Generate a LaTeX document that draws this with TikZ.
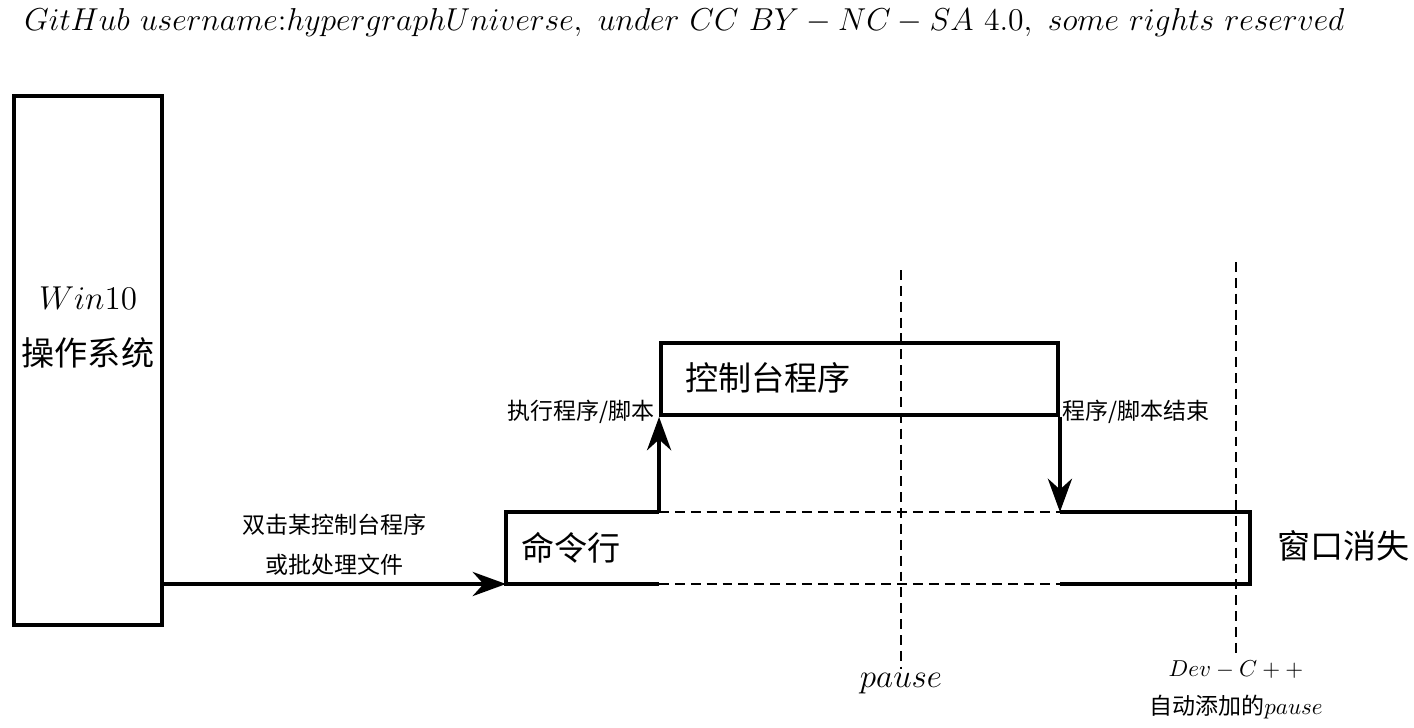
\documentclass[tikz,border=0pt]{standalone}
\usepackage{fontspec}
\newfontfamily\cjk{Noto Sans CJK SC}
\usetikzlibrary{arrows.meta,positioning}

\begin{document}
\begin{tikzpicture}[x=0.4348pt,y=-0.4348pt,
    thickline/.style={line width=1.7pt},
    thinline/.style={line width=0.85pt, dash pattern=on 4.3pt off 2.6pt},
    flow/.style={thickline, -{Stealth[length=14.5pt,width=10.5pt]}},
    bigtext/.style={font=\cjk\fontsize{14.4}{17}\selectfont, inner sep=0pt},
    smalltext/.style={font=\cjk\fontsize{10}{17.4}\selectfont, inner sep=0pt}]
  \useasboundingbox (0,0) rectangle (1414,727);

  % top line
  \node[anchor=base west, inner sep=0pt, font=\Large] (lic) at (24,30)
    {\scalebox{0.957}{$GitHub\ username{:}hypergraphUniverse,\ under\ CC\ BY-NC-SA\ 4.0,\ some\ rights\ reserved$}};

  % operating system
  \node[draw, thickline, minimum width=64.3pt, minimum height=230pt, inner sep=0pt] (os) at (88,360.5) {};
  \node[bigtext] (win) at (88,298) {$Win10$};
  \node[bigtext] (ossys) at (88,353) {操作系统};

  % console program
  \node[draw, thickline, minimum width=172.6pt, minimum height=31.3pt, inner sep=0pt] (con) at (859.5,379) {};
  \node[bigtext, anchor=west] (context) at (685,378) {控制台程序};

  % command line window
  \coordinate (cmdnw) at (506,512);
  \coordinate (cmdsw) at (506,584);
  \coordinate (cmdne) at (1250,512);
  \coordinate (cmdse) at (1250,584);
  \coordinate (cmdup) at (con.south west |- cmdnw);
  \coordinate (cmddown) at (con.south east |- cmdnw);
  \coordinate (cmdupb) at (con.south west |- cmdsw);
  \coordinate (cmddownb) at (con.south east |- cmdsw);
  \draw[thickline] (cmdupb) -- (cmdsw) -- (cmdnw) -- (cmdup);
  \draw[thickline] (cmddown) -- (cmdne) -- (cmdse) -- (cmddownb);
  \draw[thinline] (cmdup) -- (cmddown);
  \draw[thinline] (cmdupb) -- (cmddownb);
  \node[bigtext, anchor=west] (cmdtext) at (521,548) {命令行};
  \node[bigtext, anchor=west] (gone) at (1277,546) {窗口消失};

  % arrows
  \draw[flow] (os.east |- cmdsw) -- node[smalltext, above=3pt, align=center] (dblclick) {双击某控制台程序\\或批处理文件} (cmdsw);
  \draw[flow] (cmdup) -- (con.south west);
  \node[smalltext, anchor=east] (runlbl) at (655,412) {执行程序/脚本};
  \draw[flow] (con.south east) -- (cmddown);
  \node[smalltext, anchor=west] (endlbl) at (1062,412) {程序/脚本结束};

  % pause lines
  \node[bigtext] (pause) at (901,684) {$pause$};
  \coordinate (pausetop) at (901,270);
  \draw[thinline] (pausetop) -- ([yshift=2pt]pause.north);
  \node[smalltext] (devc) at (1236,670) {$Dev-C++$};
  \node[smalltext] (autop) at (1236,707) {自动添加的$pause$};
  \coordinate (devtop) at (1236,262);
  \draw[thinline] (devtop) -- ([yshift=2pt]devc.north);
\end{tikzpicture}
\end{document}
